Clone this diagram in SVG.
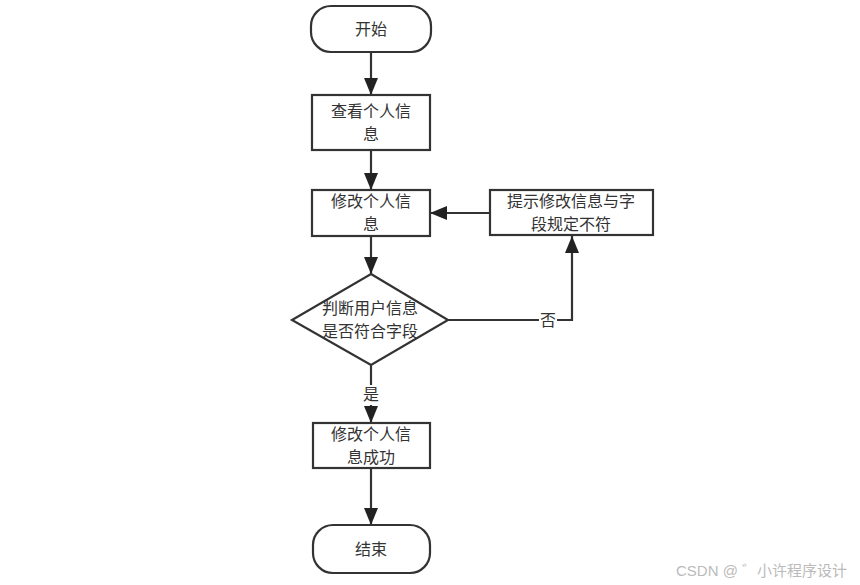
<svg xmlns="http://www.w3.org/2000/svg" width="860" height="585" viewBox="0 0 860 585">
<defs>
<marker id="arr" markerUnits="userSpaceOnUse" markerWidth="18" markerHeight="14" refX="17" refY="7" orient="auto">
<path d="M0,0 L17,7 L0,14 z" fill="#222"/>
</marker>
<style>
.shape{fill:#fff;stroke:#333;stroke-width:2.2}
.conn{fill:none;stroke:#333;stroke-width:2.2}
.t{font-family:"Liberation Sans","Noto Sans CJK SC",sans-serif;font-size:16px;fill:#333;text-anchor:middle}
.wm{font-family:"Liberation Sans","Noto Sans CJK SC",sans-serif;font-size:15px;fill:#bbb}
</style>
</defs>
<rect width="860" height="585" fill="#fff"/>
<g id="connectors">
<line class="conn" x1="371" y1="52" x2="371" y2="95" marker-end="url(#arr)"/>
<line class="conn" x1="371" y1="150" x2="371" y2="190" marker-end="url(#arr)"/>
<line class="conn" x1="371" y1="236" x2="371" y2="274" marker-end="url(#arr)"/>
<line class="conn" x1="371" y1="365" x2="371" y2="423" marker-end="url(#arr)"/>
<line class="conn" x1="371" y1="468" x2="371" y2="525" marker-end="url(#arr)"/>
<line class="conn" x1="490" y1="213" x2="430" y2="213" marker-end="url(#arr)"/>
<polyline class="conn" points="448,320 572,320 572,236" marker-end="url(#arr)"/>
<rect x="539" y="310" width="18" height="20" fill="#fff"/>
<text class="t" x="548" y="326">否</text>
<rect x="362" y="385" width="18" height="20" fill="#fff"/>
<text class="t" x="371" y="400">是</text>
</g>
<g id="start">
<rect class="shape" x="311" y="6" width="120" height="46" rx="20" ry="20"/>
<text class="t" x="371" y="35">开始</text>
</g>
<g id="view">
<rect class="shape" x="312" y="95" width="118" height="55"/>
<text class="t" x="371" y="117">查看个人信</text>
<text class="t" x="371" y="140">息</text>
</g>
<g id="modify">
<rect class="shape" x="312" y="190" width="118" height="46"/>
<text class="t" x="371" y="207">修改个人信</text>
<text class="t" x="371" y="230">息</text>
</g>
<g id="tip">
<rect class="shape" x="490" y="190" width="163" height="45"/>
<text class="t" x="571" y="207">提示修改信息与字</text>
<text class="t" x="571" y="230">段规定不符</text>
</g>
<g id="decide">
<polygon class="shape" points="371,274 448,320 371,365 292,320"/>
<text class="t" x="370" y="314">判断用户信息</text>
<text class="t" x="370" y="337">是否符合字段</text>
</g>
<g id="success">
<rect class="shape" x="313" y="423" width="117" height="45"/>
<text class="t" x="371" y="440">修改个人信</text>
<text class="t" x="371" y="463">息成功</text>
</g>
<g id="end">
<rect class="shape" x="313" y="525" width="117" height="48" rx="20" ry="20"/>
<text class="t" x="371" y="555">结束</text>
</g>
<text class="wm" x="676" y="576">CSDN @ ゛小许程序设计</text>
</svg>
